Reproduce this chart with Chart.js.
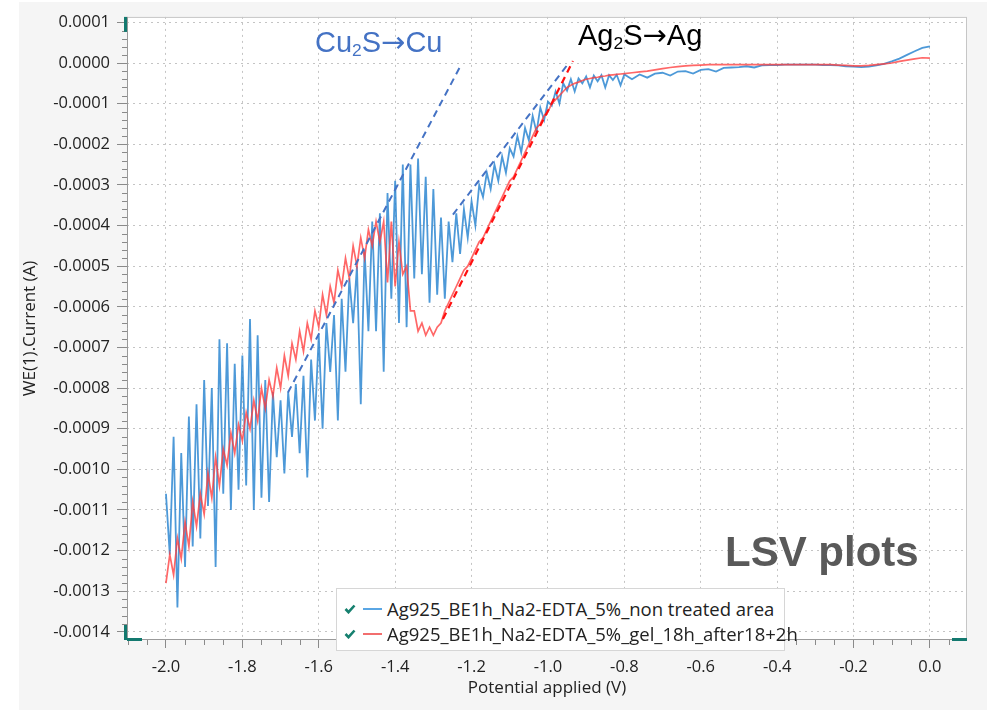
<!DOCTYPE html>
<html><head><meta charset="utf-8">
<script src="https://cdn.jsdelivr.net/npm/chart.js@4.4.1/dist/chart.umd.min.js"></script>
<style>
html,body{margin:0;padding:0;background:#fff;}
#wrap{position:relative;width:987px;height:710px;overflow:hidden;background:#fff;}
#panel{position:absolute;left:19px;top:2px;right:0;bottom:0;background:#f5f5f5;}
#c{position:absolute;left:0;top:0;}
.ann{position:absolute;font-family:"Liberation Sans",Arial,sans-serif;line-height:1;white-space:nowrap;}
.ann sub{font-size:60%;vertical-align:-0.25em;line-height:0;}
.ann .ar{font-family:"DejaVu Sans",sans-serif;font-weight:normal;}
#legend{position:absolute;left:336px;top:588px;width:449px;height:63px;background:#fff;border:1px solid #d6d6d6;box-sizing:border-box;font-family:"Open Sans",sans-serif;font-size:18.5px;color:#222;}
.row{position:absolute;left:0;height:24px;line-height:24px;white-space:nowrap;}
.row svg{position:absolute;left:7px;top:7px;}
.row .ln{position:absolute;left:26px;top:11px;width:19px;height:2px;}
.row .tx{position:absolute;left:50px;top:0;}
</style></head>
<body>
<div id="wrap">
  <div id="panel"></div>
  <canvas id="c" width="987" height="710"></canvas>
  <div class="ann" id="annCu" style="left:315px;top:28px;font-size:29px;color:#4472C4;">Cu<sub>2</sub>S<span class="ar">→</span>Cu</div>
  <div class="ann" id="annAg" style="left:578px;top:21px;font-size:29px;color:#000;">Ag<sub>2</sub>S<span class="ar">→</span>Ag</div>
  <div class="ann" id="annLsv" style="left:725px;top:531px;font-size:42px;font-weight:bold;color:#595959;">LSV plots</div>
  <div id="legend"></div>
</div>
<script>
// ---------- DATA ----------
const potential = [
-2.00,-1.99,-1.98,-1.97,-1.96,-1.95,-1.94,-1.93,-1.92,-1.91,
-1.90,-1.89,-1.88,-1.87,-1.86,-1.85,-1.84,-1.83,-1.82,-1.81,
-1.80,-1.79,-1.78,-1.77,-1.76,-1.75,-1.74,-1.73,-1.72,-1.71,
-1.70,-1.69,-1.68,-1.67,-1.66,-1.65,-1.64,-1.63,-1.62,-1.61,
-1.60,-1.59,-1.58,-1.57,-1.56,-1.55,-1.54,-1.53,-1.52,-1.51,
-1.50,-1.49,-1.48,-1.47,-1.46,-1.45,-1.44,-1.43,-1.42,-1.41,
-1.40,-1.39,-1.38,-1.37,-1.36,-1.35,-1.34,-1.33,-1.32,-1.31,
-1.30,-1.29,-1.28,-1.27,-1.26,-1.25,-1.24,-1.23,-1.22,-1.21,
-1.20,-1.19,-1.18,-1.17,-1.16,-1.15,-1.14,-1.13,-1.12,-1.11,
-1.10,-1.09,-1.08,-1.07,-1.06,-1.05,-1.04,-1.03,-1.02,-1.01,
-1.00,-0.99,-0.98,-0.97,-0.96,-0.95,-0.94,-0.93,-0.92,-0.91,
-0.90,-0.89,-0.88,-0.87,-0.86,-0.85,-0.84,-0.83,-0.82,-0.81,
-0.80,
-0.78,-0.76,-0.74,-0.72,-0.70,-0.68,-0.66,-0.64,-0.62,-0.60,
-0.58,-0.56,-0.54,-0.52,-0.50,-0.48,-0.46,-0.44,-0.42,-0.40,
-0.38,-0.36,-0.34,-0.32,-0.30,-0.28,-0.26,-0.24,-0.22,-0.20,
-0.18,-0.16,-0.14,-0.12,-0.10,-0.08,-0.06,-0.04,-0.02,0.00
];
const currentNonTreated = [
-0.00106,-0.00121,-0.00092,-0.00134,-0.00096,-0.00124,-0.00087,-0.00119,-0.00084,-0.00117,
-0.00078,-0.00109,-0.00080,-0.00124,-0.00068,-0.00106,-0.00069,-0.00110,-0.00074,-0.00105,
-0.00072,-0.00104,-0.00063,-0.00110,-0.00067,-0.00107,-0.00078,-0.00108,-0.00081,-0.00097,
-0.00083,-0.00101,-0.00081,-0.00092,-0.00079,-0.00096,-0.00077,-0.00102,-0.00073,-0.00088,
-0.00067,-0.00090,-0.00064,-0.00076,-0.00062,-0.00088,-0.00058,-0.00076,-0.00053,-0.00064,
-0.00050,-0.00084,-0.00046,-0.00066,-0.00039,-0.00066,-0.00037,-0.00076,-0.00032,-0.00058,
-0.00029,-0.00064,-0.00025,-0.00065,-0.00025,-0.00053,-0.000235,-0.00052,-0.00028,-0.00059,
-0.00031,-0.00057,-0.00038,-0.00058,-0.00039,-0.00049,-0.00037,-0.00047,-0.00036,-0.00043,
-0.00034,-0.00040,-0.00030,-0.00033,-0.00027,-0.00031,-0.00025,-0.00029,-0.00023,-0.00027,
-0.00021,-0.00023,-0.00018,-0.00022,-0.00016,-0.00019,-0.00013,-0.00017,-0.00011,-0.00014,
-0.000095,-0.000105,-0.00007,-0.00010,-0.00005,-0.000068,-0.00004,-0.00007,-0.000038,-0.00005,
-0.000033,-0.00006,-0.000031,-0.000045,-0.00003,-0.00006,-0.00003,-0.000042,-0.000029,-0.000055,
-0.000028,
-0.00004,-0.000028,-0.000036,-0.000026,-0.000024,-0.000031,-0.000021,-0.00002,-0.000026,-0.000017,
-0.000015,-0.000021,-0.000012,-0.000011,-0.00001,-0.000008,-0.000011,-0.000006,-0.000005,-0.000005,
-0.000004,-0.000004,-0.000004,-0.000004,-0.000004,-0.000005,-0.000005,-0.000006,-0.000008,-0.000009,
-0.00001,-0.000009,-0.000006,-0.000002,0.000004,0.000011,0.00002,0.000029,0.000037,0.000041
];
const currentGel = [
-0.00128,-0.00121,-0.00126,-0.00117,-0.00122,-0.00113,-0.00119,-0.00108,-0.00114,-0.00106,
-0.00111,-0.00101,-0.00107,-0.00097,-0.00104,-0.00095,-0.00099,-0.00091,-0.00096,-0.00089,
-0.00093,-0.00086,-0.00090,-0.00083,-0.00088,-0.00080,-0.00085,-0.00078,-0.00082,-0.00075,
-0.00080,-0.00072,-0.00077,-0.00069,-0.00073,-0.00066,-0.00071,-0.00064,-0.00068,-0.00061,
-0.00065,-0.00057,-0.00062,-0.00055,-0.00059,-0.00051,-0.00055,-0.00048,-0.00053,-0.00045,
-0.00050,-0.00043,-0.00048,-0.00041,-0.00045,-0.00039,-0.00044,-0.00039,-0.00054,-0.00039,
-0.00055,-0.00044,-0.00052,-0.00050,-0.00061,-0.00061,-0.00066,-0.00064,-0.00067,-0.00065,
-0.00067,-0.00065,-0.00064,-0.00061,-0.00059,-0.00057,-0.00055,-0.00053,-0.00051,-0.00050,
-0.00048,-0.00046,-0.00044,-0.00043,-0.00041,-0.00039,-0.00037,-0.00035,-0.00033,-0.00031,
-0.00029,-0.00028,-0.00026,-0.00024,-0.00022,-0.00020,-0.00018,-0.00016,-0.00015,-0.00013,
-0.00012,-0.00010,-0.00009,-0.00008,-0.00007,-0.00006,-0.000055,-0.00005,-0.000047,-0.000043,
-0.00004,-0.000038,-0.000036,-0.000035,-0.000033,-0.000032,-0.00003,-0.000029,-0.000028,-0.000027,
-0.000026,
-0.000024,-0.000022,-0.00002,-0.000017,-0.000014,-0.000011,-0.000009,-0.000007,-0.000006,-0.000005,
-0.000004,-0.000004,-0.000004,-0.000004,-0.000004,-0.000004,-0.000004,-0.000004,-0.000004,-0.000004,
-0.000004,-0.000004,-0.000004,-0.000004,-0.000004,-0.000004,-0.000004,-0.000005,-0.000006,-0.000007,
-0.000007,-0.000006,-0.000004,-0.000002,0,0.000004,0.000007,0.00001,0.000013,0.000012
];
const seriesNames = ["Ag925_BE1h_Na2-EDTA_5%_non treated area","Ag925_BE1h_Na2-EDTA_5%_gel_18h_after18+2h"];
// tangent (guide) lines: [potential, current] end points
const tangentCuV = [-1.6806, -1.2277];
const tangentCuI = [-0.000811, -0.000005];
const tangentAgBlueV = [-1.2487, -0.9476];
const tangentAgBlueI = [-0.000373, -0.0000025];
const tangentAgRedV = [-1.2749, -0.9346];
const tangentAgRedI = [-0.00063, 0.0000049];
const xTickValues = [-2.0,-1.8,-1.6,-1.4,-1.2,-1.0,-0.8,-0.6,-0.4,-0.2,0.0];
const yTickValues = [0.0001,0,-0.0001,-0.0002,-0.0003,-0.0004,-0.0005,-0.0006,-0.0007,-0.0008,-0.0009,-0.0010,-0.0011,-0.0012,-0.0013,-0.0014];

// ---------- CHART ----------
const colBlue = 'rgba(38,130,208,0.82)';
const colRed = 'rgba(255,60,60,0.78)';
const pts = (xs, ys) => xs.map((v, i) => ({x: v, y: ys[i]}));
const FONT = '"Open Sans", sans-serif';

const decor = {
  id: 'decor',
  beforeDraw(c) {
    const {ctx, chartArea: a} = c;
    ctx.save();
    ctx.fillStyle = '#ffffff';
    ctx.fillRect(a.left, a.top, a.right - a.left, a.bottom - a.top);
    ctx.restore();
  },
  afterDraw(c) {
    const {ctx, chartArea: a, scales} = c;
    ctx.save();
    ctx.strokeStyle = '#c6c6c6';
    ctx.lineWidth = 1;
    ctx.strokeRect(a.left + 0.5, a.top + 0.5, a.right - a.left - 1, a.bottom - a.top - 1);
    ctx.strokeStyle = '#9a9a9a';
    ctx.beginPath(); ctx.moveTo(a.left + 0.5, a.top); ctx.lineTo(a.left + 0.5, a.bottom); ctx.stroke();
    ctx.beginPath(); ctx.moveTo(a.left, a.bottom - 0.5); ctx.lineTo(a.right, a.bottom - 0.5); ctx.stroke();
    ctx.strokeStyle = '#8a8a8a';
    const ys = scales.y, xs = scales.x;
    for (let k = -71; k <= 5; k++) {
      if (k % 5 === 0) continue;
      const p = Math.round(ys.getPixelForValue(k * 0.00002)) + 0.5;
      if (p < a.top || p > a.bottom) continue;
      ctx.beginPath(); ctx.moveTo(a.left - 5, p); ctx.lineTo(a.left, p); ctx.stroke();
    }
    for (let k = -42; k <= 1; k++) {
      if (k % 4 === 0) continue;
      const p = Math.round(xs.getPixelForValue(k * 0.05)) + 0.5;
      if (p < a.left || p > a.right) continue;
      ctx.beginPath(); ctx.moveTo(p, a.bottom); ctx.lineTo(p, a.bottom + 5); ctx.stroke();
    }
    ctx.fillStyle = '#13796f';
    ctx.fillRect(a.left - 3, a.top, 3, 15);
    ctx.fillRect(a.left - 3, a.bottom - 15, 3, 15);
    ctx.fillRect(a.left, a.bottom - 2, 15, 3);
    ctx.fillRect(a.right - 15, a.bottom - 2, 15, 3);
    ctx.restore();
  }
};

const chart = new Chart(document.getElementById('c'), {
  type: 'line',
  data: {
    datasets: [
      {label: 'Cu2S tangent', data: pts(tangentCuV, tangentCuI), borderColor: '#4472C4', borderWidth: 2, borderDash: [7, 5], order: -1},
      {label: 'Ag2S tangent (blue)', data: pts(tangentAgBlueV, tangentAgBlueI), borderColor: '#4472C4', borderWidth: 2, borderDash: [7, 5], order: -1},
      {label: 'Ag2S tangent (red)', data: pts(tangentAgRedV, tangentAgRedI), borderColor: '#ff1010', borderWidth: 2.2, borderDash: [7, 5], order: -2},
      {label: seriesNames[1], data: pts(potential, currentGel), borderColor: colRed, borderWidth: 1.7, order: 0},
      {label: seriesNames[0], data: pts(potential, currentNonTreated), borderColor: colBlue, borderWidth: 1.8, order: 1}
    ]
  },
  options: {
    responsive: false,
    animation: false,
    devicePixelRatio: 1,
    parsing: false,
    layout: {padding: {left: 0, right: 20, top: 15, bottom: 0}},
    elements: {point: {radius: 0}, line: {tension: 0, fill: false}},
    plugins: {legend: {display: false}, tooltip: {enabled: false}},
    scales: {
      x: {
        type: 'linear', min: -2.102, max: 0.097,
        afterBuildTicks: s => { s.ticks = xTickValues.map(v => ({value: v})); },
        afterFit: s => { s.height = 70; },
        ticks: {font: {family: FONT, size: 16.5}, color: '#222', padding: 9, maxRotation: 0, autoSkip: false,
                callback: v => v.toFixed(1)},
        grid: {color: '#c4c4c4', lineWidth: 1, tickLength: 8, tickColor: '#8a8a8a'},
        border: {display: false, dash: [2, 4]},
        title: {display: true, text: 'Potential applied (V)', font: {family: FONT, size: 17}, color: '#222', padding: {top: 0, bottom: 12}}
      },
      y: {
        type: 'linear', min: -0.00142, max: 0.0001135,
        afterBuildTicks: s => { s.ticks = yTickValues.map(v => ({value: v})); },
        afterFit: s => { s.width = 127; },
        ticks: {font: {family: FONT, size: 16.5}, color: '#222', padding: 7, autoSkip: false,
                callback: v => (Math.abs(v) < 1e-12 ? '0.0000' : v.toFixed(4))},
        grid: {color: '#c4c4c4', lineWidth: 1, tickLength: 10, tickColor: '#8a8a8a'},
        border: {display: false, dash: [2, 4]},
        title: {display: true, text: 'WE(1).Current (A)', font: {family: FONT, size: 17}, color: '#222', padding: {top: 20, bottom: 0}}
      }
    }
  },
  plugins: [decor]
});

const legendColors = ['#5aa6e4', '#f26e6e'];
const lg = document.getElementById('legend');
seriesNames.forEach((name, i) => {
  const r = document.createElement('div');
  r.className = 'row';
  r.style.top = (8 + i * 25) + 'px';
  r.innerHTML = '<svg width="12" height="10" viewBox="0 0 12 10"><polyline points="1.5,5 4.5,8.2 10.5,1.5" fill="none" stroke="#16806f" stroke-width="2.6"/></svg>' +
    '<div class="ln" style="background:' + legendColors[i] + '"></div><div class="tx"></div>';
  r.querySelector('.tx').textContent = name;
  lg.appendChild(r);
});
</script>
</body></html>
